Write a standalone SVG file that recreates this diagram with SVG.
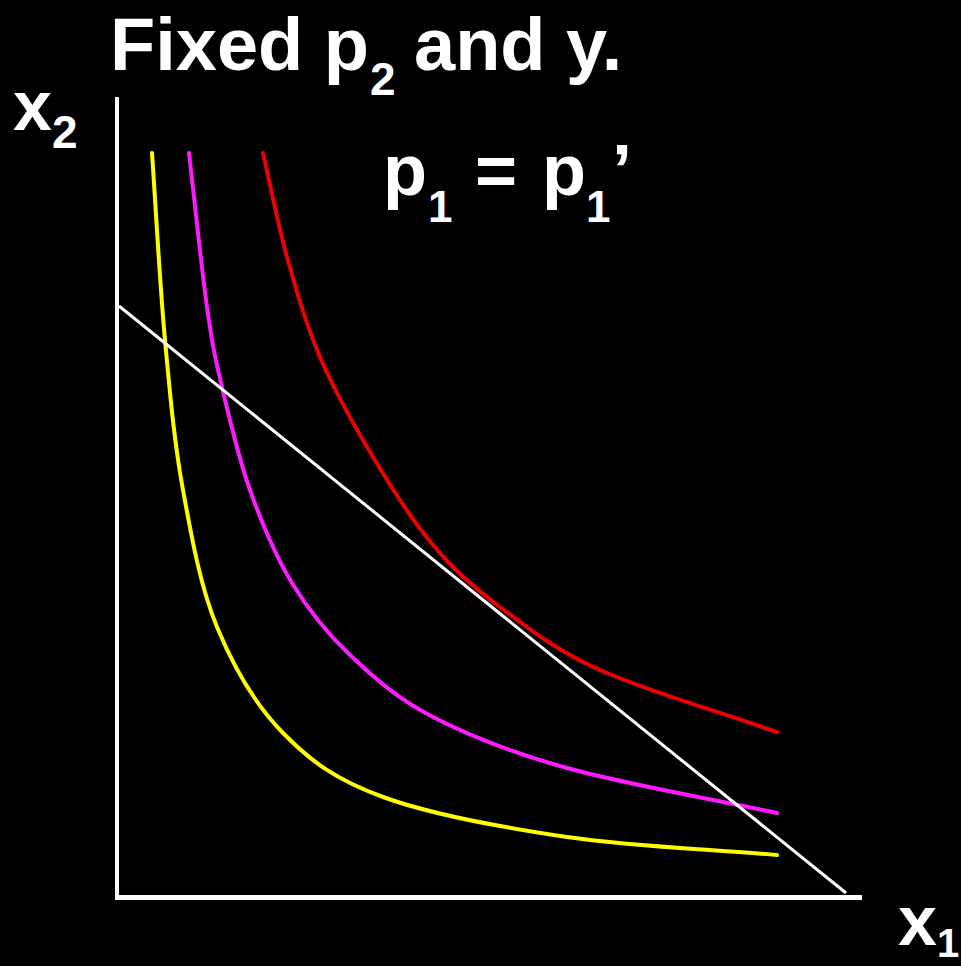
<svg xmlns="http://www.w3.org/2000/svg" width="961" height="966" viewBox="0 0 961 966">
<style>
.t{font-family:"Liberation Sans",Arial,sans-serif;font-weight:bold;fill:#fff}
.c{fill:none;stroke-width:4;stroke-linejoin:round;stroke-linecap:round}
</style>
<rect width="961" height="966" fill="#000"/>
<g id="title">
<text class="t" x="110" y="70" font-size="74">Fixed p</text>
<text class="t" x="370" y="95" font-size="46">2</text>
<text class="t" x="414" y="70" font-size="74">and y.</text>
</g>
<g id="price-label">
<text class="t" x="383" y="195" font-size="72">p</text>
<text class="t" x="428" y="222" font-size="44">1</text>
<text class="t" x="475" y="195" font-size="72">=</text>
<text class="t" x="542" y="195" font-size="72">p</text>
<text class="t" x="586" y="222" font-size="44">1</text>
<text class="t" x="612" y="195" font-size="72">’</text>
</g>
<g id="x2-label">
<text class="t" x="13" y="130" font-size="70">x</text>
<text class="t" x="52" y="148" font-size="46">2</text>
</g>
<g id="x1-label">
<text class="t" x="898" y="945" font-size="70">x<tspan font-size="40" dy="12">1</tspan></text>
</g>
<g id="axes">
<line x1="117" y1="97" x2="117" y2="900" stroke="#fff" stroke-width="4"/>
<line x1="115" y1="897.5" x2="862" y2="897.5" stroke="#fff" stroke-width="5"/>
</g>
<g id="indifference-curves">
<path id="yellow" class="c" stroke="#ffff00" d="M152,153 C156.3,215.3 159.8,283.8 165,340 C170.2,396.2 174.3,442.2 183,490 C191.7,537.8 200.3,586.5 217,627 C233.7,667.5 255.3,704.7 283,733 C310.7,761.3 335.7,779.7 383,797 C430.3,814.3 501.3,827.3 567,837 C632.7,846.7 707,849 777,855"/>
<path id="magenta" class="c" stroke="#ff1aff" d="M189,153 C195,204.3 201.5,268 207,307 C212.5,346 214.8,356.5 222,387 C229.2,417.5 238.3,457.3 250,490 C261.7,522.7 275.3,555.5 292,583 C308.7,610.5 326.5,632.7 350,655 C373.5,677.3 396.8,698.2 433,717 C469.2,735.8 509.7,752 567,768 C624.3,784 707,798 777,813"/>
<path id="red" class="c" stroke="#ee0000" d="M263,153 C271,187.7 277.5,223 287,257 C296.5,291 305.7,323.7 320,357 C334.3,390.3 354.2,425.7 373,457 C391.8,488.3 411.8,520 433,545 C454.2,570 472.2,586.2 500,607 C527.8,627.8 553.8,649.2 600,670 C646.2,690.8 718,711.3 777,732"/>
</g>
<g id="connectors">
<line id="budget-line" x1="119" y1="306" x2="846" y2="893" stroke="#fff" stroke-width="3"/>
</g>
</svg>
